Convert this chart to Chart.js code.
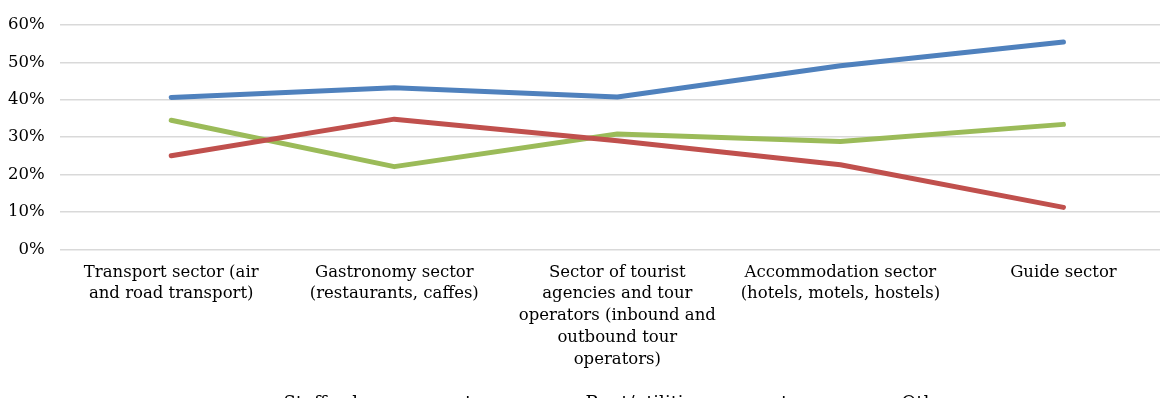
<!DOCTYPE html>
<html>
<head>
<meta charset="utf-8">
<script src="https://cdn.jsdelivr.net/npm/chart.js@4/dist/chart.umd.min.js"></script>
<style>
  html, body { margin: 0; padding: 0; background: #fff; overflow: hidden; }
  canvas { display: block; }
</style>
</head>
<body>
<canvas id="sectorChart" width="1175" height="417"></canvas>
<script>
// categories (already split into lines as in the original)
var sectors = [
    ['Transport sector (air', 'and road transport)'],
    ['Gastronomy sector', '(restaurants, caffes)'],
    ['Sector of tourist', 'agencies and tour', 'operators (inbound and', 'outbound tour', 'operators)'],
    ['Accommodation sector', '(hotels, motels, hostels)'],
    ['Guide sector']
];
var staffSalary = [40.6, 43.2, 40.7, 49.1, 55.4];
var rentUtilities = [25.0, 34.8, 29.0, 22.6, 11.2];
var others = [34.5, 22.1, 30.8, 28.8, 33.4];
var yTicks = [0, 10, 20, 30, 40, 50, 60];

var font = "'DejaVu Serif', serif";

// legend keeps wide horizontal spacing but takes less vertical room
var trim = 25;
var legendTrim = {
    id: 'legendTrim',
    beforeInit: function (chart) {
        var legend = chart.legend;
        if (!legend) return;
        var fit = legend.fit;
        var draw = legend.draw;
        legend.fit = function () {
            fit.call(this);
            this.height -= trim;
        };
        legend.draw = function () {
            var c = this.ctx;
            c.save();
            c.translate(10, -trim);
            draw.call(this);
            c.restore();
        };
    }
};

document.addEventListener('DOMContentLoaded', function () {
    var ctx = document.getElementById('sectorChart').getContext('2d');

    function lineSet(label, data, color) {
        return {
            label: label,
            data: data,
            borderColor: color,
            backgroundColor: color,
            borderWidth: 5,
            borderCapStyle: 'round',
            borderJoinStyle: 'round',
            pointRadius: 0,
            tension: 0
        };
    }

    var chart = new Chart(ctx, {
        type: 'line',
        data: {
            labels: sectors,
            datasets: [
                lineSet('Staff salary payments', staffSalary, '#4f81bd'),
                lineSet('Rent/utilities payments', rentUtilities, '#c0504d'),
                lineSet('Others', others, '#9bbb59')
            ]
        },
        plugins: [legendTrim],
        options: {
            responsive: false,
            animation: false,
            layout: { padding: { top: 8, left: -7, right: 0, bottom: -6 } },
            plugins: {
                tooltip: { enabled: false },
                legend: {
                    position: 'bottom',
                    labels: {
                        color: '#000',
                        font: { family: font, size: 18 },
                        boxWidth: 50,
                        boxHeight: 1,
                        padding: 45
                    }
                }
            },
            scales: {
                x: {
                    offset: true,
                    grid: { display: false },
                    border: { display: false },
                    ticks: {
                        color: '#000',
                        font: { family: font, size: 16.5, lineHeight: 1.33 },
                        maxRotation: 0,
                        autoSkip: false,
                        padding: 4
                    }
                },
                y: {
                    min: 0,
                    max: 60,
                    afterBuildTicks: function (axis) {
                        axis.ticks = yTicks.map(function (v) { return { value: v }; });
                    },
                    grid: { color: '#d9d9d9', lineWidth: 1.5, drawTicks: false },
                    border: { display: false },
                    ticks: {
                        color: '#000',
                        font: { family: font, size: 16.5 },
                        padding: 15,
                        callback: function (v) { return v + '%'; }
                    }
                }
            }
        }
    });
});
</script>
</body>
</html>
